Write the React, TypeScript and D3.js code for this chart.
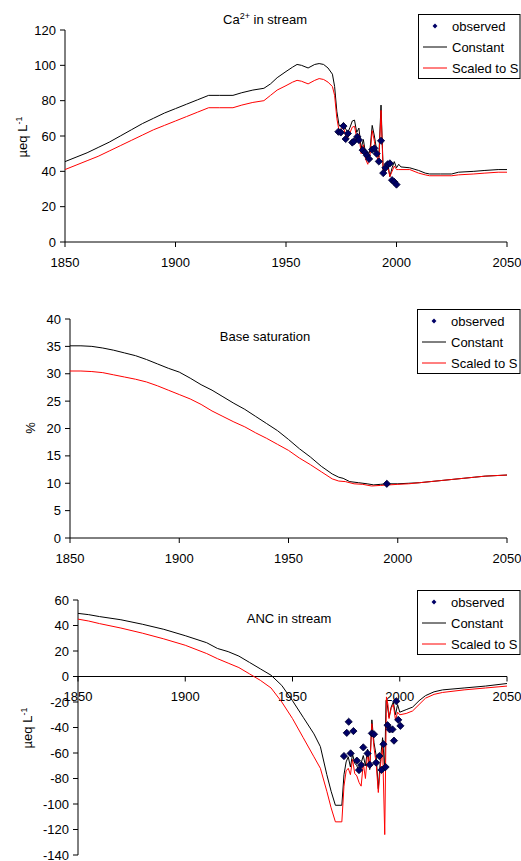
import React from "react";
import * as d3 from "d3";

type Pt = [number, number];

// ---------- Ca2+ in stream ----------
const CA_CONSTANT: Pt[] = [[1850,45.5],[1855,48],[1860,50.5],[1865,53.5],[1870,56.5],[1875,60],[1880,63.5],[1885,67],[1890,70],[1895,73],[1900,75.5],[1905,78],[1910,80.5],[1915,83],[1920,83],[1926,83],[1930,84.5],[1935,86],[1940,87],[1943,89.5],[1946,93],[1950,96.5],[1953,99],[1955,100.5],[1957,100],[1960,98.5],[1963,100.5],[1965,101],[1967,100.5],[1969,98.5],[1971,95],[1972,88],[1973,74],[1974,66],[1975,66],[1976,67.5],[1977,64],[1978,62],[1979,65],[1980,68.5],[1981,69],[1982,62],[1983,64.5],[1984,53],[1985,58],[1986,50],[1987,48],[1988,52],[1989,66],[1990,60],[1991,52],[1992,48],[1993,77.5],[1994,40],[1995,42],[1996,45],[1997,37],[1998,42],[1999,45.5],[2000,42],[2001,44],[2002,42.5],[2006,42],[2010,40.5],[2013,39],[2015,38.5],[2020,38.5],[2025,38.5],[2028,39.5],[2035,40],[2040,40.5],[2046,41],[2050,41]];
const CA_SCALED: Pt[] = [[1850,41],[1855,43.5],[1860,46],[1865,48.5],[1870,51.5],[1875,54.5],[1880,57.5],[1885,60.5],[1890,63.5],[1895,66],[1900,68.5],[1905,71],[1910,73.5],[1915,76],[1920,76],[1926,76],[1930,77.5],[1935,79],[1940,80],[1943,83],[1946,86],[1950,88.5],[1953,90.5],[1955,91.5],[1957,91],[1960,89.5],[1963,91.5],[1965,92.5],[1967,92],[1969,90.5],[1971,88],[1972,83],[1973,70],[1974,63],[1975,64],[1976,65],[1977,60],[1978,59],[1979,62],[1980,65],[1981,65.5],[1982,59],[1983,61],[1984,50],[1985,55],[1986,47],[1987,44],[1988,49],[1989,63],[1990,57],[1991,49],[1992,45],[1993,74.5],[1994,38],[1995,40],[1996,43],[1997,37],[1998,40],[1999,43],[2000,41],[2001,41],[2006,41],[2010,39],[2013,38],[2015,37.5],[2025,37.5],[2028,38],[2035,38.5],[2040,39],[2046,39.5],[2050,39.5]];
const CA_OBSERVED: Pt[] = [[1973.7,62.4],[1974.8,62],[1976,65.6],[1977,58.3],[1978,61.4],[1980,56.3],[1980.7,57],[1982.3,59.6],[1983,57.7],[1984.7,52],[1985.8,50.7],[1986.6,49],[1987.6,47],[1989,52.3],[1990,53],[1991,50],[1992,45.6],[1993,57.3],[1994,39],[1995,42],[1996,44],[1997,44.5],[1998,35],[1999,34],[2000,32.5]];
const CA_TICKS = [0, 20, 40, 60, 80, 100, 120];

// ---------- Base saturation ----------
const BS_CONSTANT: Pt[] = [[1850,35.1],[1855,35.1],[1860,35],[1865,34.7],[1870,34.3],[1875,33.8],[1880,33.3],[1885,32.6],[1890,31.8],[1895,31],[1900,30.3],[1905,29.2],[1910,28],[1915,27],[1920,25.8],[1925,24.6],[1930,23.5],[1935,22.2],[1940,20.9],[1945,19.6],[1950,18],[1955,16.3],[1960,14.8],[1965,13.1],[1970,11.7],[1973,11.1],[1975,10.9],[1978,10.3],[1982,10.1],[1986,9.9],[1989,9.7],[1992,9.8],[1996,9.9],[2000,9.9],[2005,10],[2010,10.1],[2015,10.3],[2020,10.5],[2025,10.7],[2030,10.9],[2035,11.1],[2040,11.3],[2045,11.4],[2050,11.5]];
const BS_SCALED: Pt[] = [[1850,30.5],[1855,30.5],[1860,30.4],[1865,30.2],[1870,29.8],[1875,29.4],[1880,29],[1885,28.5],[1890,27.8],[1895,27],[1900,26.2],[1905,25.4],[1910,24.4],[1915,23.2],[1920,22.2],[1925,21.2],[1930,20.3],[1935,19.2],[1940,18.2],[1945,17.1],[1950,16],[1955,14.6],[1960,13.4],[1965,12.1],[1970,10.8],[1973,10.4],[1976,10.3],[1980,9.9],[1984,9.8],[1988,9.5],[1992,9.6],[1996,9.7],[2000,9.8],[2005,9.9],[2010,10.1],[2015,10.3],[2020,10.5],[2025,10.7],[2030,10.9],[2035,11.1],[2040,11.3],[2045,11.4],[2050,11.5]];
const BS_OBSERVED: Pt[] = [[1995,9.9]];
const BS_TICKS = [0, 5, 10, 15, 20, 25, 30, 35, 40];

// ---------- ANC in stream ----------
const ANC_CONSTANT: Pt[] = [[1850,49.5],[1855,48.5],[1860,47],[1870,44.5],[1880,41],[1890,37],[1900,32],[1910,26.5],[1915,22],[1920,19.5],[1925,16],[1930,11],[1935,6],[1940,1],[1945,-7],[1950,-19],[1955,-32],[1960,-45],[1963,-55],[1966,-77],[1968,-90],[1970,-101],[1973,-101],[1974,-77],[1975,-67],[1976,-63],[1977,-71],[1978,-61],[1979,-68],[1980,-70],[1981,-75],[1982,-68],[1983,-62],[1984,-70],[1985,-57],[1986,-73],[1987,-34],[1988,-52],[1989,-62],[1990,-88],[1991,-65],[1992,-48],[1993,-73],[1993.6,-19],[1994,-20],[1995,-32],[1996,-24],[1997,-20],[1998,-30],[1999,-22],[2000,-28],[2003,-26],[2006,-24],[2009,-19],[2012,-15],[2016,-12],[2020,-10.5],[2030,-9],[2040,-7.5],[2050,-5.5]];
const ANC_SCALED: Pt[] = [[1850,45],[1855,43.5],[1860,41.5],[1870,38],[1880,34],[1890,29.5],[1900,24.5],[1910,18],[1915,14],[1920,10.5],[1925,7],[1930,2],[1935,-3],[1940,-9],[1945,-20],[1950,-33],[1955,-48],[1960,-63],[1963,-72],[1966,-90],[1968,-103],[1970,-114],[1973,-114],[1974,-86],[1975,-74],[1976,-72],[1977,-77],[1978,-65],[1979,-76],[1980,-78],[1981,-83],[1982,-86],[1983,-68],[1984,-80],[1985,-60],[1986,-72],[1987,-37],[1988,-56],[1989,-68],[1990,-91],[1991,-70],[1992,-55],[1993,-124],[1993.8,-16],[1994.5,-22],[1995,-33],[1996,-25],[1997,-22],[1998,-34],[1999,-28],[2000,-30],[2003,-29],[2006,-27],[2009,-22],[2012,-17],[2016,-14],[2020,-12.5],[2030,-10.5],[2040,-9],[2050,-7.5]];
const ANC_OBSERVED: Pt[] = [[1974,-62.4],[1975.3,-44.2],[1976.2,-35.5],[1977.1,-60.3],[1978.4,-42.8],[1980,-66],[1981,-73.4],[1982,-69.4],[1983,-55.6],[1985,-60.3],[1986,-69.2],[1987,-44.6],[1988,-45.3],[1989,-67.6],[1990.5,-62.4],[1991.5,-73.3],[1992.4,-53.1],[1993.4,-71],[1994.3,-38.2],[1995.3,-41.5],[1996.6,-41.5],[1997.3,-50.3],[1998.4,-19.4],[1999.3,-34],[2000.3,-38.7]];
const ANC_TICKS = [-140, -120, -100, -80, -60, -40, -20, 0, 20, 40, 60];

const YEAR_TICKS = [1850, 1900, 1950, 2000, 2050];
const LEGEND_LABELS = ["observed", "Constant", "Scaled to S"];

const FONT = "Arial, 'Liberation Sans', Helvetica, sans-serif";
const FS = 13;

interface PanelProps {
  x0: number; x1: number; yTop: number; yBot: number;
  yDomain: [number, number]; yTicks: number[];
  constant: Pt[]; scaled: Pt[]; observed: Pt[];
  title: React.ReactNode; titleX: number; titleY: number;
  yLabel: React.ReactNode; yLabelX: number; yLabelY: number;
  legendTop: number; legendLeft: number;
  xAxisAtZero?: boolean;
}

const diamond = (s: number) => d3.symbol().type(d3.symbolSquare).size(s)() as string;

function Panel(p: PanelProps) {
  const x = d3.scaleLinear().domain([1850, 2050]).range([p.x0, p.x1]);
  const y = d3.scaleLinear().domain(p.yDomain).range([p.yBot, p.yTop]);
  const line = d3.line<Pt>().x(d => x(d[0])).y(d => y(d[1]));
  const axisY = p.xAxisAtZero ? y(0) : p.yBot;
  const lg = p.legendTop;
  const ll = p.legendLeft;
  return (
    <g fontFamily={FONT} fontSize={FS} fill="#000">
      {/* y axis */}
      <line x1={p.x0} x2={p.x0} y1={p.yTop} y2={p.yBot} stroke="#000" strokeWidth={1} />
      {p.yTicks.map(t => (
        <g key={"y" + t}>
          <line x1={p.x0 - 5} x2={p.x0} y1={y(t)} y2={y(t)} stroke="#000" />
          <text x={p.x0 - 9} y={y(t)} dy="0.35em" textAnchor="end">{t}</text>
        </g>
      ))}
      {/* x axis */}
      <line x1={p.x0} x2={p.x1} y1={axisY} y2={axisY} stroke="#000" strokeWidth={1} />
      {YEAR_TICKS.map(t => (
        <g key={"x" + t}>
          <line x1={x(t)} x2={x(t)} y1={axisY} y2={axisY + 5} stroke="#000" />
          <text x={x(t)} y={axisY + 20} dy="0.35em" textAnchor="middle">{t}</text>
        </g>
      ))}
      {/* series */}
      <path d={line(p.constant) || ""} fill="none" stroke="#000" strokeWidth={1} />
      <path d={line(p.scaled) || ""} fill="none" stroke="#ff0000" strokeWidth={1} />
      {p.observed.map((d, i) => (
        <path key={"o" + i} d={diamond(26)} transform={`translate(${x(d[0])},${y(d[1])}) rotate(45)`}
          fill="#000066" stroke="#000033" strokeWidth={0.8} />
      ))}
      {/* title */}
      <text x={p.titleX} y={p.titleY} dy="0.35em" textAnchor="middle">{p.title}</text>
      {/* y label */}
      <text transform={`translate(${p.yLabelX},${p.yLabelY}) rotate(-90)`} textAnchor="middle" dy="0.35em">{p.yLabel}</text>
      {/* legend */}
      <rect x={ll + 0.5} y={lg + 0.5} width={520 - ll - 0.5} height={64} fill="#fff" stroke="#000" strokeWidth={1} />
      <path d={diamond(12)} transform={`translate(${ll + 17},${lg + 12}) rotate(45)`} fill="#000066" />
      <line x1={ll + 5} x2={ll + 29} y1={lg + 33} y2={lg + 33} stroke="#000" />
      <line x1={ll + 5} x2={ll + 29} y1={lg + 54} y2={lg + 54} stroke="#ff0000" />
      {LEGEND_LABELS.map((l, i) => (
        <text key={l} x={ll + 34} y={lg + 12 + i * 21} dy="0.35em">{l}</text>
      ))}
    </g>
  );
}

const ueq = (
  <>
    <tspan>µeq L</tspan>
    <tspan fontSize={9} dy={-5}>-1</tspan>
  </>
);

export default function App() {
  return (
    <svg width={521} height={861} style={{ position: "absolute", left: 0, top: 0, background: "#fff" }}>
      <rect x={0} y={0} width={521} height={861} fill="#fff" />
      <Panel x0={65} x1={507} yTop={30} yBot={242} yDomain={[0, 120]} yTicks={CA_TICKS}
        constant={CA_CONSTANT} scaled={CA_SCALED} observed={CA_OBSERVED}
        title={<><tspan>Ca</tspan><tspan fontSize={9} dy={-5}>2+</tspan><tspan dy={5}> in stream</tspan></>}
        titleX={265} titleY={19}
        yLabel={ueq} yLabelX={22} yLabelY={137}
        legendTop={14} legendLeft={418} />
      <Panel x0={70} x1={507} yTop={319} yBot={538} yDomain={[0, 40]} yTicks={BS_TICKS}
        constant={BS_CONSTANT} scaled={BS_SCALED} observed={BS_OBSERVED}
        title="Base saturation" titleX={265} titleY={336}
        yLabel="%" yLabelX={30} yLabelY={428}
        legendTop={309} legendLeft={417} />
      <Panel x0={78} x1={507} yTop={600} yBot={855} yDomain={[-140, 60]} yTicks={ANC_TICKS}
        constant={ANC_CONSTANT} scaled={ANC_SCALED} observed={ANC_OBSERVED}
        title="ANC in stream" titleX={289} titleY={618}
        yLabel={ueq} yLabelX={27} yLabelY={728}
        legendTop={590} legendLeft={417} xAxisAtZero />
    </svg>
  );
}
